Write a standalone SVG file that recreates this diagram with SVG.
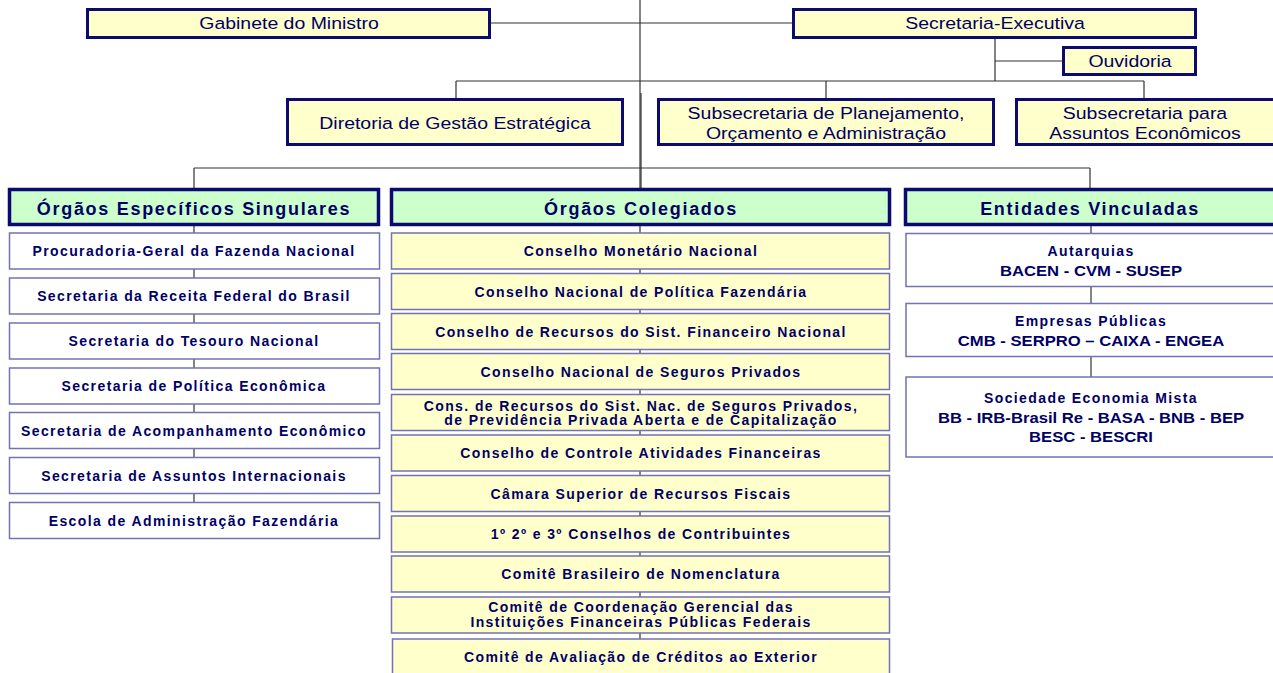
<svg xmlns="http://www.w3.org/2000/svg" width="1273" height="673" viewBox="0 0 1273 673">
<style>
.bg{fill:#ffffff}
.conn{stroke:#333333;stroke-width:1.2;fill:none}
.top{fill:#FFFFCC;stroke:#0A0A70;stroke-width:3}
.hdr{fill:#CCFFCC;stroke:#0A0A70;stroke-width:3.5}
.wht{fill:#ffffff;stroke:#7272B4;stroke-width:1.5}
.yel{fill:#FFFFCC;stroke:#7272B4;stroke-width:1.5}
text{font-family:"Liberation Sans",Arial,sans-serif;fill:#000066;text-anchor:middle}
.tt{font-size:16.5px}
.ht{font-size:18px;font-weight:bold;letter-spacing:1.7px}
.it{font-size:14px;font-weight:bold;letter-spacing:1.4px}
.rl{font-size:15px;font-weight:bold}
</style>
<rect class="bg" x="0" y="0" width="1273" height="673"/>
<g id="connectors">
<path class="conn" d="M640,0 V188"/>
<path class="conn" d="M641,93 V188"/>
<path class="conn" d="M491,23 H792"/>
<path class="conn" d="M995,38 V81 M995,61 H1062"/>
<path class="conn" d="M456,81 H1144 M456,81 V98 M826,81 V98 M1144,81 V98"/>
<path class="conn" d="M194,168 H1090 M194,168 V188 M1090,168 V188"/>
<path class="conn" d="M194,226 V503"/>
<path class="conn" d="M640,226 V640"/>
<path class="conn" d="M1091,226 V377"/>
</g>
<g id="gabinete"><rect class="top" x="87.5" y="9.5" width="402" height="28"/><text class="tt" transform="translate(289,29) scale(1.18,1)">Gabinete do Ministro</text></g>
<g id="secretaria-executiva"><rect class="top" x="793.5" y="9.5" width="402" height="28"/><text class="tt" transform="translate(995,29) scale(1.18,1)">Secretaria-Executiva</text></g>
<g id="ouvidoria"><rect class="top" x="1063.5" y="47.5" width="132" height="27"/><text class="tt" transform="translate(1130,67) scale(1.18,1)">Ouvidoria</text></g>
<g id="diretoria"><rect class="top" x="287.5" y="99.5" width="335" height="45"/><text class="tt" transform="translate(455,129) scale(1.18,1)">Diretoria de Gestão Estratégica</text></g>
<g id="subsec-planejamento"><rect class="top" x="658.5" y="99.5" width="335" height="45"/><text class="tt" transform="translate(826,119) scale(1.18,1)">Subsecretaria de Planejamento,</text><text class="tt" transform="translate(826,139) scale(1.18,1)">Orçamento e Administração</text></g>
<g id="subsec-assuntos"><rect class="top" x="1016.5" y="99.5" width="280" height="45"/><text class="tt" transform="translate(1145,119) scale(1.18,1)">Subsecretaria para</text><text class="tt" transform="translate(1145,139) scale(1.18,1)">Assuntos Econômicos</text></g>
<g id="hdr-especificos"><rect class="hdr" x="9.5" y="189.5" width="369" height="35"/><text class="ht" x="194" y="215">Órgãos Específicos Singulares</text></g>
<g id="hdr-colegiados"><rect class="hdr" x="391.5" y="189.5" width="498" height="35"/><text class="ht" x="641" y="215">Órgãos Colegiados</text></g>
<g id="hdr-entidades"><rect class="hdr" x="905.5" y="189.5" width="380" height="35"/><text class="ht" x="1090" y="215">Entidades Vinculadas</text></g>
<g id="esp-1"><rect class="wht" x="9.5" y="233" width="370" height="36"/><text class="it" x="194" y="256">Procuradoria-Geral da Fazenda Nacional</text></g>
<g id="esp-2"><rect class="wht" x="9.5" y="278" width="370" height="36"/><text class="it" x="194" y="301">Secretaria da Receita Federal do Brasil</text></g>
<g id="esp-3"><rect class="wht" x="9.5" y="323" width="370" height="36"/><text class="it" x="194" y="346">Secretaria do Tesouro Nacional</text></g>
<g id="esp-4"><rect class="wht" x="9.5" y="368" width="370" height="36"/><text class="it" x="194" y="391">Secretaria de Política Econômica</text></g>
<g id="esp-5"><rect class="wht" x="9.5" y="412.5" width="370" height="36"/><text class="it" x="194" y="435.5">Secretaria de Acompanhamento Econômico</text></g>
<g id="esp-6"><rect class="wht" x="9.5" y="457.5" width="370" height="36"/><text class="it" x="194" y="480.5">Secretaria de Assuntos Internacionais</text></g>
<g id="esp-7"><rect class="wht" x="9.5" y="502.5" width="370" height="36"/><text class="it" x="194" y="525.5">Escola de Administração Fazendária</text></g>
<g id="col-1"><rect class="yel" x="391.5" y="233" width="498" height="36"/><text class="it" x="641" y="256">Conselho Monetário Nacional</text></g>
<g id="col-2"><rect class="yel" x="391.5" y="273.5" width="498" height="36"/><text class="it" x="641" y="296.5">Conselho Nacional de Política Fazendária</text></g>
<g id="col-3"><rect class="yel" x="391.5" y="313.5" width="498" height="36"/><text class="it" x="641" y="336.5">Conselho de Recursos do Sist. Financeiro Nacional</text></g>
<g id="col-4"><rect class="yel" x="391.5" y="353.5" width="498" height="36"/><text class="it" x="641" y="376.5">Conselho Nacional de Seguros Privados</text></g>
<g id="col-5"><rect class="yel" x="391.5" y="394.5" width="498" height="36"/><text class="it" x="641" y="410.5">Cons. de Recursos do Sist. Nac. de Seguros Privados,</text><text class="it" x="641" y="425">de Previdência Privada Aberta e de Capitalização</text></g>
<g id="col-6"><rect class="yel" x="391.5" y="435" width="498" height="36"/><text class="it" x="641" y="458">Conselho de Controle Atividades Financeiras</text></g>
<g id="col-7"><rect class="yel" x="391.5" y="475.5" width="498" height="36"/><text class="it" x="641" y="498.5">Câmara Superior de Recursos Fiscais</text></g>
<g id="col-8"><rect class="yel" x="391.5" y="516" width="498" height="36"/><text class="it" x="641" y="539">1º 2º e 3º Conselhos de Contribuintes</text></g>
<g id="col-9"><rect class="yel" x="391.5" y="556" width="498" height="36"/><text class="it" x="641" y="579">Comitê Brasileiro de Nomenclatura</text></g>
<g id="col-10"><rect class="yel" x="391.5" y="597" width="498" height="36"/><text class="it" x="641" y="611.5">Comitê de Coordenação Gerencial das</text><text class="it" x="641" y="626.5">Instituições Financeiras Públicas Federais</text></g>
<g id="col-11"><rect class="yel" x="392.5" y="639" width="497" height="40"/><text class="it" x="641" y="662">Comitê de Avaliação de Créditos ao Exterior</text></g>
<g id="ent-autarquias"><rect class="wht" x="906" y="233.5" width="380" height="53"/><text class="it" x="1091" y="256">Autarquias</text><text class="rl" transform="translate(1091,275.5) scale(1.11,1)">BACEN - CVM - SUSEP</text></g>
<g id="ent-empresas"><rect class="wht" x="906" y="303.5" width="380" height="53"/><text class="it" x="1091" y="326">Empresas Públicas</text><text class="rl" transform="translate(1091,345.5) scale(1.11,1)">CMB - SERPRO – CAIXA - ENGEA</text></g>
<g id="ent-sociedade"><rect class="wht" x="906" y="377" width="380" height="80"/><text class="it" x="1091" y="403">Sociedade Economia Mista</text><text class="rl" transform="translate(1091,422.5) scale(1.11,1)">BB - IRB-Brasil Re - BASA - BNB - BEP</text><text class="rl" transform="translate(1091,442) scale(1.11,1)">BESC - BESCRI</text></g>
</svg>
